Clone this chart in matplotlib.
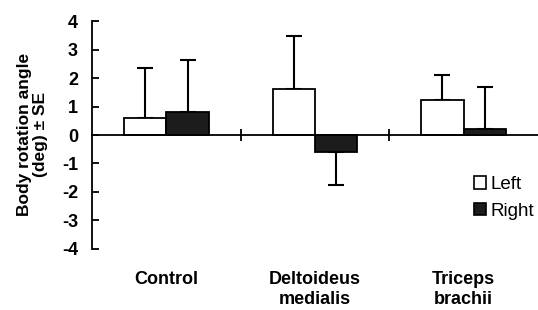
import matplotlib.pyplot as plt
import numpy as np
from matplotlib.patches import Patch

plt.rcParams['font.family'] = ['Liberation Sans', 'DejaVu Sans']

categories = ['Control', 'Deltoideus\nmedialis', 'Triceps\nbrachii']
left_vals = [0.6, 1.62, 1.22]
left_err = [1.74, 1.84, 0.88]
right_vals = [0.82, -0.6, 0.22]
right_err = [1.83, 1.15, 1.48]
yticks = [-4, -3, -2, -1, 0, 1, 2, 3, 4]

fig = plt.figure(figsize=(5.38, 3.10), dpi=100)
ax = fig.add_axes([0.171, 0.197, 0.829, 0.735])

x = np.arange(len(categories)) + 0.5
w = 0.285
dark = '#1c1c1c'

ax.bar(x - w / 2, left_vals, w, color='white', edgecolor='black', linewidth=1.3, zorder=2)
ax.bar(x + w / 2, right_vals, w, color=dark, edgecolor='black', linewidth=1.3, zorder=2)

# one-sided error bars, in the direction of the bar
for xs, vals, errs in [(x - w / 2, left_vals, left_err), (x + w / 2, right_vals, right_err)]:
    vals = np.array(vals)
    errs = np.array(errs)
    lower = np.where(vals < 0, errs, 0)
    upper = np.where(vals >= 0, errs, 0)
    ax.errorbar(xs, vals, yerr=[lower, upper], fmt='none', ecolor='black',
                elinewidth=1.5, capsize=5.5, capthick=1.5, zorder=1)

ax.set_xlim(0, 3)
ax.set_ylim(-4, 4)
ax.set_yticks(yticks)
ax.set_yticklabels([str(t) for t in yticks], fontweight='bold', fontsize=13)
ax.tick_params(axis='y', direction='in', length=5, width=1.3, pad=10)

ax.spines['top'].set_visible(False)
ax.spines['right'].set_visible(False)
ax.spines['left'].set_linewidth(1.3)
ax.spines['bottom'].set_position(('data', 0))
ax.spines['bottom'].set_linewidth(1.3)
ax.set_xticks([1, 2])
ax.set_xticklabels([])
ax.tick_params(axis='x', direction='inout', length=9, width=1.3)

trans = ax.get_xaxis_transform()
for xi, lab in zip(x, categories):
    ax.text(xi, -0.095, lab, transform=trans, ha='center', va='top',
            fontweight='bold', fontsize=13, linespacing=1.25)

ax.set_ylabel('Body rotation angle\n(deg) ± SE', fontweight='bold', fontsize=12.5,
              linespacing=1.1)
ax.yaxis.set_label_coords(-0.099, 0.504)

handles = [Patch(facecolor='white', edgecolor='black', linewidth=1.2),
           Patch(facecolor=dark, edgecolor='black', linewidth=1.2)]
ax.legend(handles, ['Left', 'Right'], loc='center left', bbox_to_anchor=(0.857, 0.224),
          frameon=False, fontsize=13.5, handlelength=0.64, handleheight=0.64,
          handletextpad=0.25, labelspacing=0.5, borderpad=0, borderaxespad=0)

fig.savefig('out.png', dpi=100)
